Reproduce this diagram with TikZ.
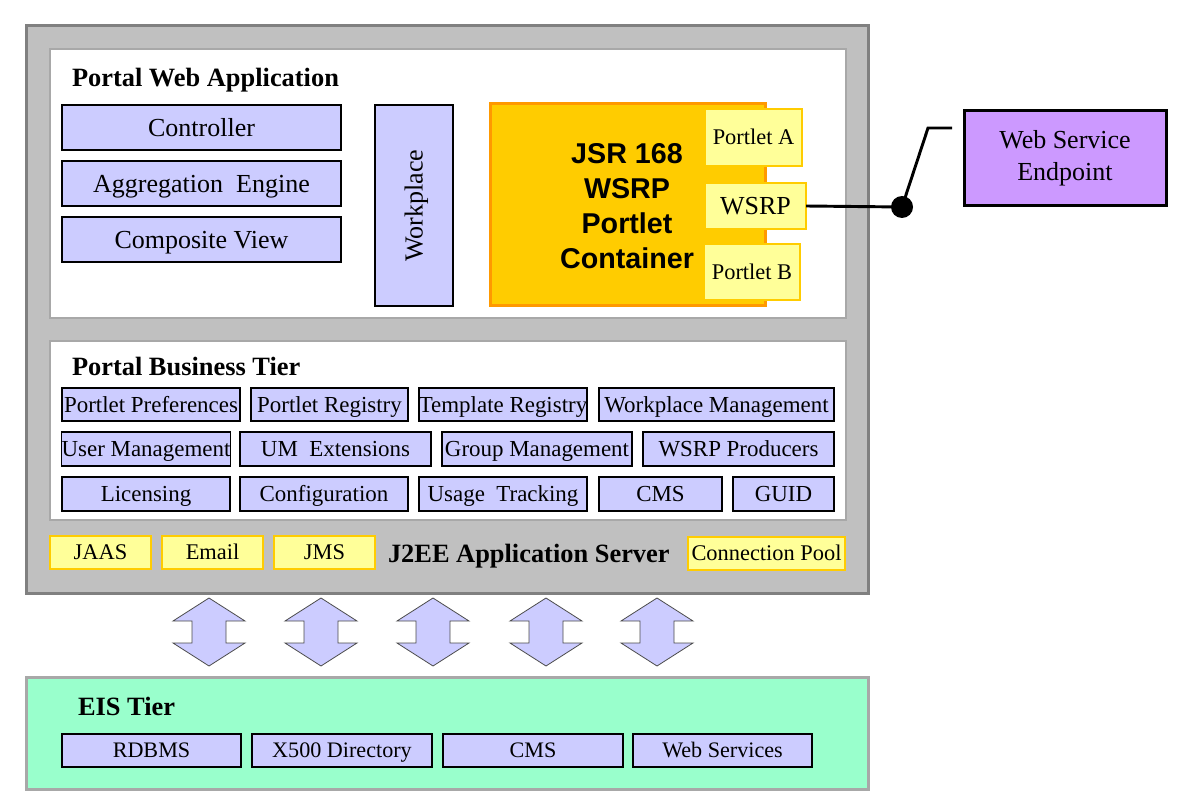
\documentclass[tikz,border=0pt]{standalone}
\usepackage{fontspec}
\setmainfont{Liberation Serif}
\newfontfamily\arialfont{Liberation Sans}
\definecolor{outerfill}{HTML}{C0C0C0}
\definecolor{outerdraw}{HTML}{808080}
\definecolor{paneldraw}{HTML}{A8A8A8}
\definecolor{lavc}{HTML}{CCCCFF}
\definecolor{yelc}{HTML}{FFFF99}
\definecolor{goldc}{HTML}{FFCC00}
\definecolor{orangec}{HTML}{FF9900}
\definecolor{purplec}{HTML}{CC99FF}
\definecolor{mintc}{HTML}{99FFCC}
\newcommand\mybox[7]{\node[#1, minimum width={(#4-#2)*0.75pt}, minimum height={(#5-#3)*0.75pt}] (#6) at ({(#2+#4)/2},{(#3+#5)/2}) {#7};}
\begin{document}
\begin{tikzpicture}[x=0.75pt,y=-0.75pt,
  base/.style={inner sep=0pt, outer sep=0pt},
  capalign/.style={text height=#1, text depth=0pt},
  outerbox/.style={base, draw=outerdraw, fill=outerfill, line width=2.25pt},
  panel/.style={base, draw=paneldraw, fill=white, line width=2pt},
  eisbox/.style={base, draw=paneldraw, fill=mintc, line width=2.25pt},
  lav/.style={base, capalign=12.9pt, draw=black, fill=lavc, line width=1.1pt, font=\fontsize{19.5}{23}\selectfont},
  lavs/.style={base, capalign=11.4pt, draw=black, fill=lavc, line width=1.1pt, font=\fontsize{17.2}{20}\selectfont},
  lave/.style={base, capalign=11pt, draw=black, fill=lavc, line width=1.1pt, font=\fontsize{16.6}{20}\selectfont},
  yel/.style={base, capalign=11.1pt, draw=goldc, fill=yelc, line width=1.1pt, font=\fontsize{16.8}{20}\selectfont},
  jsr/.style={base, draw=orangec, fill=goldc, line width=2.25pt},
  wse/.style={base, draw=black, fill=purplec, line width=2.25pt, align=center, font=\fontsize{19.5}{24}\selectfont},
  title/.style={base, capalign=13.1pt, anchor=west, font=\fontsize{19.8}{23}\selectfont\bfseries},
  link/.style={draw=black, line width=2.2pt},
  bigarrow/.style={draw=black!70, fill=lavc, line width=0.6pt}
]
\useasboundingbox (0,0) rectangle (1187,812);

% outer application server
\mybox{outerbox}{26}{26}{868}{593}{server}{}
% Portal web application panel
\mybox{panel}{50}{49}{846}{318}{webapp}{}
\node[title] (webtitle) at (72,78) {Portal Web Application};
\mybox{lav}{62}{105}{341}{150}{controller}{Controller}
\mybox{lav}{62}{161}{341}{206}{aggregation}{Aggregation~ Engine}
\mybox{lav}{62}{217}{341}{262}{composite}{Composite View}
\mybox{lav}{375}{105}{453}{306}{workplace}{}
\node[base, capalign=12.9pt, rotate=90, font=\fontsize{19.5}{23}\selectfont] (workplacetext) at (workplace.center) {Workplace};
\mybox{jsr}{490}{104}{765}{306}{container}{}
\node[base, align=center, font=\fontsize{21.5}{26.25}\selectfont\arialfont\bfseries] (containertext) at (627,206) {JSR 168\\WSRP\\Portlet\\Container};
\mybox{yel}{705}{109}{802}{166}{portleta}{Portlet A}
\mybox{yel, capalign=12.9pt}{705}{183}{806}{229}{wsrp}{\fontsize{19.5}{23}\selectfont WSRP}
\mybox{yel}{704}{244}{800}{300}{portletb}{Portlet B}

% Business tier
\mybox{panel}{50}{341}{846}{520}{business}{}
\node[title] (bustitle) at (72,367) {Portal Business Tier};
\mybox{lavs}{62}{388}{240}{421}{prefs}{Portlet Preferences}
\mybox{lavs}{251}{388}{408}{421}{preg}{Portlet Registry}
\mybox{lavs}{419}{388}{587}{421}{treg}{Template Registry}
\mybox{lavs}{599}{388}{834}{421}{wpm}{Workplace Management}
\mybox{lavs}{62}{432}{230}{466}{um}{User Management}
\mybox{lavs}{240}{432}{431}{466}{umext}{UM~ Extensions}
\mybox{lavs}{442}{432}{632}{466}{gm}{Group Management}
\mybox{lavs}{643}{432}{834}{466}{wsrpp}{WSRP Producers}
\mybox{lavs}{62}{477}{230}{511}{lic}{Licensing}
\mybox{lavs}{240}{477}{408}{511}{conf}{Configuration}
\mybox{lavs}{419}{477}{587}{511}{usage}{Usage~ Tracking}
\mybox{lavs}{599}{477}{722}{511}{cms}{CMS}
\mybox{lavs}{733}{477}{834}{511}{guid}{GUID}

% J2EE services
\mybox{yel}{50}{536}{151}{569}{jaas}{JAAS}
\mybox{yel}{162}{536}{263}{569}{email}{Email}
\mybox{yel}{274}{536}{375}{569}{jms}{JMS}
\node[title] (j2ee) at (388,554) {J2EE Application Server};
\mybox{yel}{688}{537}{845}{570}{pool}{Connection Pool}

% Web service endpoint
\mybox{wse}{964}{111}{1166}{206}{endpoint}{Web Service\\Endpoint}
\node[base, circle, fill=black, minimum size={22*0.75pt}] (dot) at (902,207) {};
\coordinate (bend) at (928,128);
\coordinate (lineend) at (952,128);
\draw[link] (wsrp.east) -- (dot.center);
\draw[link] (dot.center) -- (bend) -- (lineend);

% double arrows
\foreach \cx/\nm in {209/a1,321/a2,433/a3,546/a4,657/a5}{
  \draw[bigarrow] (\cx,598) -- (\cx+36,621) -- (\cx+17,621) -- (\cx+17,643) -- (\cx+36,643)
     -- (\cx,666) -- (\cx-36,643) -- (\cx-17,643) -- (\cx-17,621) -- (\cx-36,621) -- cycle;
}

% EIS tier
\mybox{eisbox}{26}{677}{868}{789}{eis}{}
\node[title] (eistitle) at (78,707) {EIS Tier};
\mybox{lave}{62}{734}{241}{767}{rdbms}{RDBMS}
\mybox{lave}{252}{734}{432}{767}{x500}{X500 Directory}
\mybox{lave}{443}{734}{623}{767}{eiscms}{CMS}
\mybox{lave}{633}{734}{812}{767}{websvc}{Web Services}
\end{tikzpicture}
\end{document}
